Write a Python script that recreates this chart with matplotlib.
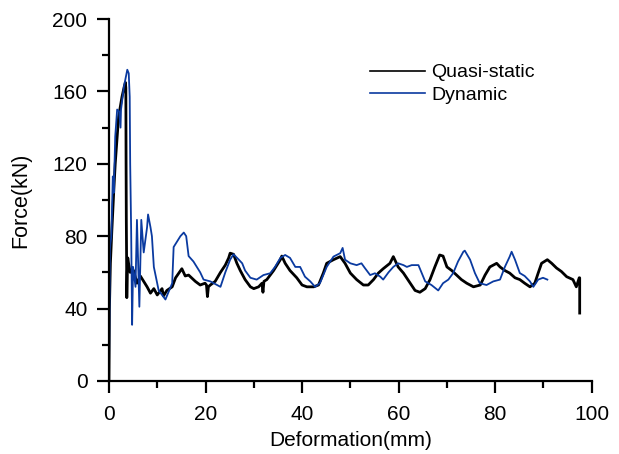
import matplotlib
matplotlib.use("Agg")
import matplotlib.pyplot as plt

plt.rcParams['font.family'] = ['Liberation Sans', 'DejaVu Sans']

# Quasi-static series (deformation mm, force kN)
qs_x = [0.0, 0.1, 0.3, 0.6, 1.0, 1.3, 2.0, 2.7, 3.2, 3.4, 3.5, 3.55, 3.6, 3.65, 3.7, 3.8, 3.9, 4.0,
        4.4, 5.1, 5.8, 6.5, 7.2, 7.9, 8.6, 9.3, 10.0, 11.0, 11.3, 12.0, 13.1, 13.8, 15.1, 15.8, 16.5,
        17.9, 18.9, 19.9, 20.2, 20.4, 20.6, 21.0, 22.0, 23.1, 24.1, 24.8, 25.1, 25.8, 26.5, 27.2,
        28.2, 29.3, 30.0, 31.0, 31.7, 31.9, 32.1, 32.7, 34.1, 35.5, 35.8, 36.5, 37.5, 38.9, 40.0,
        41.0, 42.4, 43.4, 44.4, 45.1, 46.5, 47.9, 48.9, 50.0, 51.3, 52.7, 53.7, 54.8, 55.8, 56.8,
        58.2, 58.9, 59.9, 61.0, 62.4, 63.4, 64.4, 65.5, 66.5, 67.5, 68.5, 69.2, 70.0, 71.0, 72.0,
        73.0, 74.1, 75.5, 76.9, 77.9, 78.9, 80.3, 81.0, 82.0, 83.0, 84.1, 85.1, 86.1, 87.2, 88.2,
        88.9, 89.6, 90.8, 91.7, 92.7, 93.7, 94.8, 96.1, 96.8, 97.4, 97.5, 97.5]
qs_f = [0, 40, 65, 83, 105, 120, 146, 157, 163, 165, 162, 120, 88, 70, 46, 60, 68, 66,
        60, 61, 54, 58, 55, 52, 48.5, 51, 47.5, 51, 47, 50, 52, 57, 62, 58, 58.5,
        55, 53, 54, 53, 46.6, 52, 53, 55, 60, 64, 68, 70.6, 70, 65, 61,
        56, 52, 51, 52, 54, 49, 55, 56, 61, 67, 69, 65, 61, 57, 53,
        52, 52, 53, 59.6, 65, 67, 68.7, 65, 59.6, 56, 53, 53, 56, 59.6, 62,
        65, 68.7, 63, 59.6, 54, 50, 49, 51, 56, 63, 69.6, 69, 63, 61, 58.5,
        56, 54, 52, 53, 58.5, 63, 65, 63, 61, 59.6, 57, 56, 54, 52, 54,
        59.6, 65, 67, 65, 62.4, 60.5, 57.6, 56, 52, 57, 57, 37.5]

# Dynamic series (deformation mm, force kN)
dy_x = [0.0, 0.2, 0.3, 0.5, 0.8, 1.0, 1.3, 1.7, 2.1, 2.4, 2.5, 3.1, 3.8, 4.1, 4.3, 4.4, 4.6,
        4.8, 5.0, 5.5, 5.8, 6.3, 6.7, 7.2, 7.9, 8.1, 8.6, 8.9, 9.3, 10.3, 11.7, 13.1, 13.4,
        14.8, 15.5, 16.0, 16.5, 17.5, 18.9, 19.6, 21.0, 22.4, 23.1, 24.1, 25.1, 25.8, 26.9,
        27.6, 28.2, 29.3, 30.6, 32.0, 33.4, 34.4, 35.5, 36.5, 37.5, 38.6, 39.6, 40.6, 41.7,
        42.7, 43.7, 45.1, 46.5, 47.9, 48.4, 48.9, 50.0, 51.3, 52.3, 53.0, 54.1, 55.1, 56.2,
        56.8, 57.9, 58.9, 59.9, 61.0, 61.7, 62.7, 64.1, 64.8, 65.5, 66.8, 68.2, 69.2, 70.3,
        71.3, 72.3, 73.4, 73.7, 74.8, 75.8, 76.8, 78.2, 79.6, 81.0, 82.0, 83.0, 83.4, 84.1,
        85.1, 86.1, 87.2, 87.9, 88.9, 89.9, 90.8]
dy_f = [0, 72, 76, 80, 113, 104, 135, 150, 149, 140, 150, 162.6, 172, 170, 157, 120, 83,
        31, 63, 52, 89, 41, 89, 71, 85, 92, 85, 80, 63, 50, 45, 54, 74,
        80, 82, 80, 69, 66, 60, 56, 55, 53, 52, 60, 67, 70, 67,
        65, 61, 57, 56, 58.5, 59.5, 63, 68, 69.6, 68, 63, 63, 57.6, 55,
        52, 54, 63, 68.7, 70.6, 73.5, 67, 65, 64, 65, 62.4, 58.5, 59.5, 57.6,
        56, 60, 63, 65, 64, 63, 64, 64, 59.5, 55, 53, 50, 54, 56,
        59.6, 66, 71.4, 72, 67, 59.6, 54, 53, 55, 56, 63, 68.7, 71.4, 67,
        59.6, 58, 55, 52, 56, 57, 56]

x_ticks = [0, 20, 40, 60, 80, 100]
y_ticks = [0, 40, 80, 120, 160, 200]
legend_labels = ["Quasi-static", "Dynamic"]

fig = plt.figure(figsize=(6.19, 4.54), dpi=100)
ax = fig.add_axes([0.176, 0.161, 0.780, 0.797])

ax.plot(qs_x, qs_f, color='black', lw=2.0, label=legend_labels[0])
ax.plot(dy_x, dy_f, color='#0a3aa0', lw=1.3, label=legend_labels[1])

ax.set_xlim(0, 100)
ax.set_ylim(0, 200)
ax.set_xticks(x_ticks)
ax.set_yticks(y_ticks)
ax.set_xticks(range(10, 100, 20), minor=True)
ax.set_yticks(range(20, 200, 40), minor=True)
for s in ['top', 'right']:
    ax.spines[s].set_visible(False)
for s in ['left', 'bottom']:
    ax.spines[s].set_linewidth(1.6)
ax.tick_params(which='major', direction='out', length=8.5, width=1.6, labelsize=15, pad=7)
ax.tick_params(axis='x', which='major', pad=9)
ax.tick_params(which='minor', direction='out', length=5, width=1.6)
ax.set_xlabel("Deformation(mm)", fontsize=15, labelpad=5)
ax.set_ylabel("Force(kN)", fontsize=15.5, labelpad=15)

leg = ax.legend(loc='upper left', bbox_to_anchor=(0.505, 0.925), frameon=False,
                fontsize=14, handlelength=2.8, handletextpad=0.35, labelspacing=0.25)
for h in leg.get_lines():
    h.set_linewidth(1.2)

fig.savefig("out.png", dpi=100)
